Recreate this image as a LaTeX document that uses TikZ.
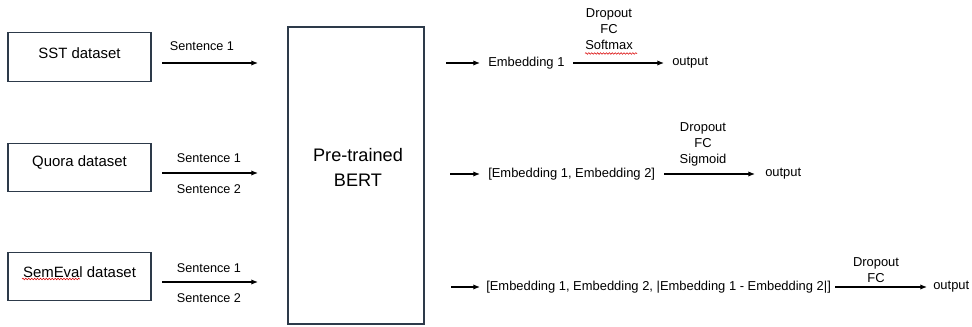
\documentclass[tikz,border=0pt]{standalone}
\usepackage{fontspec}
\setmainfont{Liberation Sans}
\usetikzlibrary{arrows.meta,decorations.pathmorphing}
\definecolor{boxc}{RGB}{45,58,74}
\begin{document}
\begin{tikzpicture}[x=0.75pt,y=-0.75pt,
  dsbox/.style={draw=boxc, line width=0.9pt, minimum width=107.25pt, minimum height=36.5pt, inner sep=0pt},
  dstext/.style={font=\fontsize{11.2}{13}\selectfont, inner sep=0pt},
  sent/.style={font=\fontsize{9.5}{11}\selectfont, inner sep=0pt},
  emb/.style={font=\fontsize{9.7}{12}\selectfont, inner sep=0pt, anchor=west},
  ops/.style={font=\fontsize{9.7}{12}\selectfont, inner sep=0pt, align=center},
  arr/.style={line width=0.9pt, -{Latex[length=5pt,width=4pt]}},
  squig/.style={red!85!black, line width=0.4pt, decorate, decoration={snake, amplitude=0.6pt, segment length=2.2pt}}]
\useasboundingbox (0,0) rectangle (972,327);

% dataset boxes
\node[dsbox] (sst) at (79.5,57) {};
\node[dstext] (ssttxt) at (79.5,53) {SST dataset};
\node[dsbox] (quora) at (79.5,167.5) {};
\node[dstext] (quoratxt) at (79.5,163) {Quora dataset};
\node[dsbox] (semeval) at (79.5,276.5) {};
\node[dstext] (semevaltxt) at (79.5,272) {SemEval dataset};
\draw[squig] (22,279) -- (80,279);

% BERT
\node[draw=boxc, line width=0.9pt, minimum width=102pt, minimum height=222.75pt, inner sep=0pt] (bert) at (356,175.5) {};
\node[font=\fontsize{13.6}{19}\selectfont, align=center, inner sep=0pt] (berttxt) at (358,167.5) {Pre-trained\\BERT};

% sentence arrows
\coordinate (s1a) at (162,63); \coordinate (s1b) at (258,63);
\coordinate (s2a) at (162,173); \coordinate (s2b) at (258,173);
\coordinate (s3a) at (162,282); \coordinate (s3b) at (258,282);
\draw[arr] (s1a) -- (s1b);
\draw[arr] (s2a) -- (s2b);
\draw[arr] (s3a) -- (s3b);
\node[sent] (l1) at (202,46) {Sentence 1};
\node[sent] (l21) at (209,158) {Sentence 1};
\node[sent] (l22) at (209,189) {Sentence 2};
\node[sent] (l31) at (209,268) {Sentence 1};
\node[sent] (l32) at (209,298) {Sentence 2};

% output rows
\coordinate (r1a) at (446,63); \coordinate (r1b) at (480,63);
\coordinate (r2a) at (450,174); \coordinate (r2b) at (480,174);
\coordinate (r3a) at (451,287); \coordinate (r3b) at (480,287);
\draw[arr] (r1a) -- (r1b);
\draw[arr] (r2a) -- (r2b);
\draw[arr] (r3a) -- (r3b);

\node[emb] (e1) at (488,63) {Embedding 1};
\node[emb] (o1) at (672,63) {output};
\coordinate (p1a) at (573,63); \coordinate (p1b) at (664,63);
\draw[arr] (p1a) -- (p1b);
\node[ops] (ops1) at (609,29) {Dropout\\FC\\Softmax};
\draw[squig] (585,53.5) -- (637,53.5);

\node[emb] (e2) at (488,174) {[Embedding 1, Embedding 2]};
\node[emb] (o2) at (765,174) {output};
\coordinate (p2a) at (664,174); \coordinate (p2b) at (755,174);
\draw[arr] (p2a) -- (p2b);
\node[ops] (ops2) at (703,144) {Dropout\\FC\\Sigmoid};

\node[emb] (e3) at (486,287) {[Embedding 1, Embedding 2, |Embedding 1 - Embedding 2|]};
\node[emb] (o3) at (933,287) {output};
\coordinate (p3a) at (835,287); \coordinate (p3b) at (927,287);
\draw[arr] (p3a) -- (p3b);
\node[ops] (ops3) at (876,270.5) {Dropout\\FC};
\end{tikzpicture}
\end{document}
